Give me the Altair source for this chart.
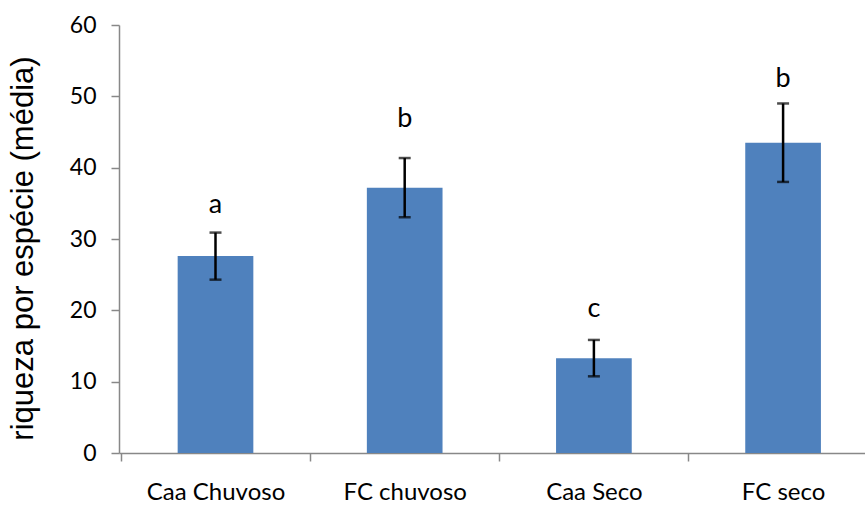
import altair as alt
import pandas as pd

# Mean species richness per group, with error half-widths and significance letters
groups = ["Caa Chuvoso", "FC chuvoso", "Caa Seco", "FC seco"]
mean_richness = [27.6, 37.2, 13.3, 43.5]
error = [3.3, 4.15, 2.55, 5.5]
letters = ["a", "b", "c", "b"]
letter_height = [33.6, 45.7, 19.0, 51.3]

df = pd.DataFrame({
    "grupo": groups,
    "media": mean_richness,
    "erro": error,
    "letra": letters,
    "letra_y": letter_height,
})
df["inf"] = df["media"] - df["erro"]
df["sup"] = df["media"] + df["erro"]

AXIS_GRAY = "#888888"
HALF_STEP = 94.6  # half of the category step, in pixels

# Category axis: ticks sit halfway between neighbouring groups, labels stay centred
x = alt.X(
    "grupo:N",
    sort=groups,
    scale=alt.Scale(paddingInner=0.6, paddingOuter=0.2715, align=0.571),
    axis=alt.Axis(
        title=None,
        labelAngle=0,
        tickOffset=-HALF_STEP,
        labelOffset=HALF_STEP,
        tickSize=8,
        tickWidth=1.5,
        tickColor=AXIS_GRAY,
        domainColor=AXIS_GRAY,
        domainWidth=1.5,
        labelPadding=38,
        labelBaseline="alphabetic",
        labelFont="Lato",
        labelFontSize=24,
        labelColor="black",
    ),
)

y_scale = alt.Scale(domain=[0, 60], nice=False)
y_axis = alt.Axis(
    values=[0, 10, 20, 30, 40, 50, 60],
    grid=False,
    tickSize=8,
    tickWidth=1.5,
    tickColor=AXIS_GRAY,
    domainColor=AXIS_GRAY,
    domainWidth=1.5,
    labelPadding=15,
    labelFont="Lato",
    labelFontSize=23,
    labelColor="black",
    title="riqueza por espécie (média)",
    titleFont="Liberation Sans",
    titleFontSize=31,
    titleFontWeight="normal",
    titleColor="black",
    titleAngle=270,
    titleAlign="center",
    titleBaseline="alphabetic",
    titleX=-87,
    titleY=223,
)

bars = alt.Chart(df).mark_bar(color="#4F81BD").encode(
    x=x,
    y=alt.Y("media:Q", scale=y_scale, axis=y_axis),
)

stems = alt.Chart(df).mark_rule(color="black", strokeWidth=2.5).encode(
    x=x,
    y=alt.Y("inf:Q", scale=y_scale, axis=y_axis),
    y2="sup:Q",
)

caps_top = alt.Chart(df).mark_tick(color="black", size=12, thickness=2.5, orient="horizontal").encode(
    x=x,
    y=alt.Y("sup:Q", scale=y_scale, axis=y_axis),
)

caps_bottom = alt.Chart(df).mark_tick(color="black", size=12, thickness=2.5, orient="horizontal").encode(
    x=x,
    y=alt.Y("inf:Q", scale=y_scale, axis=y_axis),
)

labels = alt.Chart(df).mark_text(
    font="Lato", fontSize=27, baseline="alphabetic", align="center", color="black"
).encode(
    x=x,
    y=alt.Y("letra_y:Q", scale=y_scale, axis=y_axis),
    text="letra:N",
)

chart = (
    alt.layer(bars, stems, caps_top, caps_bottom, labels)
    .properties(
        width=746,
        height=428,
        padding={"left": 119, "top": 25, "right": 0, "bottom": 52},
        autosize=alt.AutoSizeParams(type="none"),
        background="white",
    )
    .configure_view(stroke=None)
)

chart.save("out.html", embed_options={"renderer": "svg", "actions": False})
